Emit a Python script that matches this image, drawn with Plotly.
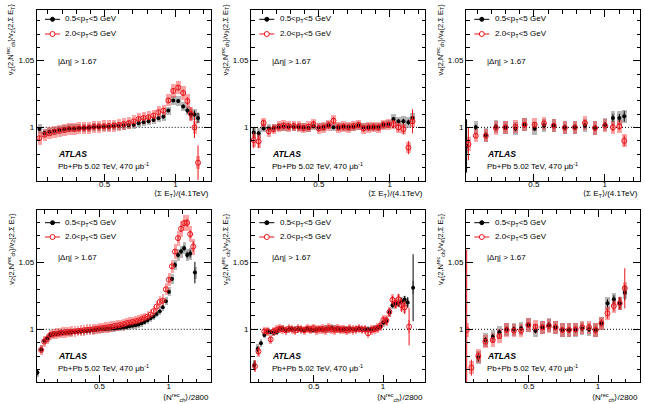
import plotly.graph_objects as go

W, H = 645, 404
FONT = "Liberation Sans, Arial, Helvetica, sans-serif"

# ---------------- data ----------------
# Top-left: v2 ratio vs <Sum E_T>/(4.1 TeV)
x_tl = [0.04, 0.075, 0.11, 0.145, 0.18, 0.215, 0.25, 0.285, 0.32, 0.355,
        0.39, 0.425, 0.46, 0.495, 0.53, 0.565, 0.6, 0.635, 0.67, 0.705,
        0.74, 0.775, 0.81, 0.845, 0.88, 0.915, 0.95, 0.985, 1.02, 1.055,
        1.085, 1.11, 1.135, 1.16]
v2e_black = [0.9987, 0.9957, 0.9967, 0.9975, 0.9982, 0.9987, 0.9992, 0.9992, 0.9995, 0.9995,
             0.9997, 1.0, 1.0, 1.0003, 1.0005, 1.0008, 1.001, 1.0013, 1.0015, 1.002,
             1.003, 1.0038, 1.0045, 1.0056, 1.0068, 1.008, 1.0126, 1.0202, 1.0197, 1.0157,
             1.0126, 1.0096, 1.0096, 1.0071]
v2e_red = [0.9919, 0.9944, 0.9955, 0.9967, 0.9975, 0.998, 0.9987, 0.9987, 0.9992, 0.9995,
           0.9997, 1.0005, 1.0005, 1.0008, 1.001, 1.0013, 1.0018, 1.0025, 1.0033, 1.0045,
           1.0063, 1.0071, 1.0076, 1.0088, 1.0114, 1.0126, 1.0202, 1.0273, 1.0298, 1.0258,
           1.0197, 1.0101, 1.0, 0.9735]
stat_tl_b = [.0015, .001, .001, .001, .001, .001, .001, .001, .001, .001,
             .001, .001, .001, .001, .001, .001, .001, .001, .001, .001,
             .001, .001, .001, .001, .001, .001, .0012, .0012, .0013, .0015,
             .002, .0025, .003, .004]
stat_tl_r = [.002, .0015, .0015, .0015, .0015, .0015, .0015, .0015, .0015, .0015,
             .0015, .0015, .0015, .0015, .0015, .0015, .0015, .0015, .0015, .0015,
             .0015, .0015, .0015, .0015, .0015, .0018, .002, .002, .0022, .0025,
             .003, .005, .008, .013]
sys_tl_b = [.004, .003, .003, .003, .003, .003, .003, .003, .003, .003,
            .003, .003, .003, .003, .003, .003, .003, .003, .003, .003,
            .003, .003, .003, .003, .003, .003, .003, .0035, .0035, .0035,
            .0035, .004, .004, .004]
sys_tl_r = [.005, .0045, .0045, .0045, .0045, .0045, .0045, .0045, .0045, .0045,
            .0045, .0045, .0045, .0045, .0045, .0045, .0045, .0045, .0045, .0045,
            .0045, .0045, .0045, .0045, .0045, .0045, .0045, .005, .005, .005,
            .005, .005, .005, .005]

# Top-middle: v3 ratio vs <Sum E_T>/(4.1 TeV)
x_tm = [0.04, 0.075, 0.11, 0.146, 0.181, 0.216, 0.251, 0.286, 0.322, 0.357,
        0.392, 0.427, 0.462, 0.498, 0.533, 0.568, 0.603, 0.638, 0.674, 0.709,
        0.744, 0.779, 0.814, 0.85, 0.885, 0.92, 0.955, 0.99, 1.026, 1.061,
        1.096, 1.131, 1.16]
v3e_black = [0.9962, 0.9955, 0.9992, 0.9992, 0.9997, 1.0, 1.0005, 1.0, 1.0, 1.0,
             1.0, 0.9995, 1.0008, 1.0, 1.0005, 1.0015, 1.0, 1.0, 1.0005, 1.0005,
             1.0003, 1.0013, 1.0, 1.0, 1.0, 1.0005, 1.002, 1.0025, 1.0063, 1.0045,
             1.0045, 1.0038, 1.0071]
v3e_red = [0.9904, 0.9894, 1.0033, 0.997, 0.9987, 1.0005, 1.0013, 1.0008, 1.001, 1.0005,
           0.9995, 1.0005, 1.0025, 0.9992, 1.0, 1.0015, 1.005, 1.0, 1.0005, 1.0,
           1.001, 1.0018, 0.9992, 1.0, 1.0003, 1.0, 1.0018, 1.002, 1.0025, 1.0,
           0.9987, 0.9848, 1.0045]
stat_tm_b = [.004, .002, .001, .001, .001, .001, .001, .001, .001, .001,
             .001, .001, .001, .001, .001, .001, .001, .001, .001, .001,
             .001, .001, .001, .001, .001, .001, .001, .001, .0015, .0015,
             .002, .002, .006]
stat_tm_r = [.006, .005, .0025, .0025, .0025, .0025, .0025, .0025, .0025, .0025,
             .0025, .0025, .0025, .0025, .0025, .0025, .0025, .0025, .0025, .0025,
             .0025, .0025, .0025, .0025, .0025, .0025, .0025, .0025, .003, .003,
             .004, .005, .009]
sys_tm_b = [.004, .004, .003, .003, .003, .003, .003, .003, .003, .003,
            .003, .003, .003, .003, .003, .003, .003, .003, .003, .003,
            .003, .003, .003, .003, .003, .003, .003, .003, .0035, .0035,
            .004, .004, .004]
sys_tm_r = [.005, .005, .004, .004, .004, .004, .004, .004, .004, .004,
            .004, .004, .004, .004, .004, .004, .004, .004, .004, .004,
            .004, .004, .004, .004, .004, .004, .004, .004, .004, .004,
            .004, .004, .004]

# Top-right: v4 ratio vs <Sum E_T>/(4.1 TeV)
x_tr_b = [0.025, 0.09, 0.161, 0.232, 0.299, 0.37, 0.434, 0.505, 0.571, 0.64,
          0.718, 0.789, 0.86, 0.931, 1.002, 1.057, 1.102, 1.137]
v4e_black = [0.9861, 1.0, 0.9942, 1.0005, 1.0, 0.9992, 1.002, 0.9992, 1.0013, 1.0013,
             1.0, 1.0, 1.0013, 0.9995, 1.002, 1.0071, 1.0071, 1.0083]
x_tr_r = [0.038, 0.09, 0.161, 0.232, 0.299, 0.37, 0.434, 0.505, 0.571, 0.64,
          0.718, 0.789, 0.86, 0.931, 1.002, 1.057, 1.102, 1.137]
v4e_red = [0.9874, 0.9937, 0.9937, 0.9995, 1.0, 1.0005, 1.002, 1.002, 1.003, 1.0013,
           0.9997, 1.0, 1.0033, 0.9995, 1.0013, 1.0, 1.0008, 0.9899]
stat_tr_b = [.02, .002, .002, .002, .002, .002, .002, .002, .002, .002,
             .002, .002, .002, .002, .002, .003, .003, .004]
stat_tr_r = [.012, .002, .002, .002, .002, .002, .002, .002, .002, .002,
             .002, .002, .002, .002, .002, .003, .003, .004]
sys_tr_b = [.005, .005, .005, .005, .005, .005, .005, .005, .005, .005,
            .005, .005, .005, .005, .005, .005, .005, .005]
sys_tr_r = [.005, .005, .005, .005, .005, .005, .005, .005, .005, .005,
            .005, .005, .005, .005, .005, .005, .005, .005]

# Bottom-left: v2 ratio vs <N_ch^rec>/2800
x_bl_b = [0.051, 0.078, 0.1, 0.122, 0.144, 0.166, 0.188, 0.21, 0.232, 0.254,
          0.276, 0.298, 0.32, 0.342, 0.364, 0.386, 0.408, 0.43, 0.452, 0.474,
          0.496, 0.518, 0.54, 0.562, 0.584, 0.606, 0.628, 0.65, 0.672, 0.694,
          0.716, 0.738, 0.76, 0.782, 0.804, 0.826, 0.848, 0.87, 0.892, 0.914,
          0.936, 0.958, 0.98, 1.002, 1.024, 1.046, 1.068, 1.09, 1.112, 1.134,
          1.156, 1.19]
v2n_black = [0.9677, 0.985, 0.9915, 0.9933, 0.9958, 0.9963, 0.9965, 0.997, 0.9972, 0.9975,
             0.9977, 0.9978, 0.998, 0.9982, 0.9984, 0.9986, 0.9988, 0.999, 0.9993, 0.9996,
             1.0, 1.0, 1.0003, 1.0005, 1.0006, 1.0007, 1.001, 1.0012, 1.0015, 1.0018,
             1.0022, 1.0026, 1.003, 1.0036, 1.0045, 1.0055, 1.0068, 1.0082, 1.0095, 1.0115,
             1.0135, 1.0165, 1.021, 1.028, 1.0375, 1.048, 1.0555, 1.058, 1.0605, 1.0555,
             1.0565, 1.0423]
x_bl_r = [0.078, 0.1, 0.122, 0.144, 0.166, 0.188, 0.21, 0.232, 0.254,
          0.276, 0.298, 0.32, 0.342, 0.364, 0.386, 0.408, 0.43, 0.452, 0.474,
          0.496, 0.518, 0.54, 0.562, 0.584, 0.606, 0.628, 0.65, 0.672, 0.694,
          0.716, 0.738, 0.76, 0.782, 0.804, 0.826, 0.848, 0.87, 0.892, 0.914,
          0.936, 0.958, 0.98, 1.002, 1.024, 1.046, 1.068, 1.09, 1.112, 1.134,
          1.156, 1.178]
v2n_red = [0.9846, 0.9908, 0.9928, 0.9958, 0.9965, 0.9968, 0.9972, 0.9975, 0.9978,
           0.998, 0.9982, 0.9985, 0.9987, 0.999, 0.9993, 0.9996, 0.9998, 1.0, 1.0003,
           1.0007, 1.0009, 1.0012, 1.0015, 1.0019, 1.0024, 1.0028, 1.0032, 1.0038, 1.0045,
           1.005, 1.0055, 1.006, 1.0066, 1.0075, 1.0085, 1.0095, 1.011, 1.0135, 1.017,
           1.0205, 1.0215, 1.0299, 1.037, 1.047, 1.058, 1.068, 1.075, 1.0792, 1.0794,
           1.071, 1.0617]
stat_bl_b = [.002, .0015, .0008, .0008, .0008, .0008, .0008, .0008, .0008, .0008,
             .0008, .0008, .0008, .0008, .0008, .0008, .0008, .0008, .0008, .0008,
             .0008, .0008, .0008, .0008, .0008, .0008, .0008, .0008, .0008, .0008,
             .0008, .0008, .0008, .0008, .0008, .0008, .0008, .0008, .0008, .0008,
             .001, .001, .0012, .0015, .0015, .002, .002, .002, .002, .0025,
             .003, .008]
stat_bl_r = [.0015, .001, .001, .001, .001, .001, .001, .001, .001,
             .001, .001, .001, .001, .001, .001, .001, .001, .001, .001,
             .001, .001, .001, .001, .001, .001, .001, .001, .001, .001,
             .001, .001, .001, .001, .001, .001, .001, .001, .001, .001,
             .001, .0012, .0015, .0015, .002, .002, .002, .0025, .0025, .003,
             .003, .004]
sys_bl_b = [.003, .003, .0025, .0025, .0025, .0025, .0025, .0025, .0025, .0025,
            .0025, .0025, .0025, .0025, .0025, .0025, .0025, .0025, .0025, .0025,
            .0025, .0025, .0025, .0025, .0025, .0025, .0025, .0025, .0025, .0025,
            .0025, .0025, .0025, .0025, .0025, .0025, .0025, .0025, .0025, .0025,
            .003, .003, .003, .0035, .004, .004, .0045, .0045, .0045, .0045,
            .0045, .0045]
sys_bl_r = [.004, .004, .004, .004, .004, .004, .004, .004, .004,
            .004, .004, .004, .004, .004, .004, .004, .004, .004, .004,
            .004, .004, .004, .004, .004, .004, .004, .004, .004, .004,
            .004, .004, .004, .004, .004, .004, .004, .004, .004, .004,
            .004, .0045, .0045, .005, .005, .0055, .0055, .006, .006, .006,
            .006, .006]

# Bottom-middle: v3 ratio vs <N_ch^rec>/2800
x_bm_b = [0.07, 0.094, 0.118, 0.142, 0.166, 0.188, 0.21, 0.232, 0.254, 0.276,
          0.298, 0.32, 0.342, 0.364, 0.386, 0.408, 0.43, 0.452, 0.474, 0.496,
          0.518, 0.54, 0.562, 0.584, 0.606, 0.628, 0.65, 0.672, 0.694, 0.716,
          0.738, 0.76, 0.782, 0.804, 0.826, 0.848, 0.87, 0.892, 0.914, 0.936,
          0.958, 0.98, 1.002, 1.024, 1.046, 1.068, 1.09, 1.112, 1.134, 1.156,
          1.178, 1.217]
v3n_black = [0.9734, 0.9853, 0.9896, 0.9958, 0.9983, 0.998, 0.9975, 0.998, 1.0, 1.0005,
             0.9995, 1.0, 1.0003, 1.0, 1.0, 0.9998, 0.9995, 1.0003, 0.9998, 0.9995,
             1.0, 1.0003, 0.9998, 1.0005, 1.0, 1.0012, 1.0005, 1.0, 0.9998, 1.0,
             1.0003, 1.0, 1.0002, 0.9998, 1.0005, 1.0, 0.9998, 1.0, 1.0003, 1.0005,
             1.0008, 1.002, 1.005, 1.006, 1.0125, 1.018, 1.019, 1.0195, 1.021, 1.022,
             1.02, 1.031]
x_bm_r = [0.075, 0.1, 0.142, 0.166, 0.188, 0.21, 0.232, 0.254, 0.276,
          0.298, 0.32, 0.342, 0.364, 0.386, 0.408, 0.43, 0.452, 0.474, 0.496,
          0.518, 0.54, 0.562, 0.584, 0.606, 0.628, 0.65, 0.672, 0.694, 0.716,
          0.738, 0.76, 0.782, 0.804, 0.826, 0.848, 0.87, 0.892, 0.914, 0.936,
          0.958, 0.98, 1.002, 1.024, 1.046, 1.068, 1.09, 1.112, 1.134, 1.156,
          1.188]
v3n_red = [0.9725, 0.9835, 0.9985, 0.9985, 0.9925, 0.9985, 0.9995, 1.0005, 1.0,
           0.9992, 1.0005, 1.0, 0.999, 1.0005, 1.0, 0.9993, 1.0005, 0.9998, 1.0008,
           0.9995, 1.0, 1.0003, 0.9995, 1.001, 1.0, 0.9995, 1.0005, 0.9998, 1.0,
           0.9992, 1.0003, 0.9995, 1.0, 1.0005, 0.9998, 1.0, 0.997, 0.9995, 1.0,
           1.001, 1.0025, 1.007, 1.0065, 1.013, 1.022, 1.019, 1.0224, 1.018, 1.0164,
           1.002]
stat_bm_b = [.003, .002, .0015, .001, .001, .001, .001, .001, .001, .001,
             .001, .001, .001, .001, .001, .001, .001, .001, .001, .001,
             .001, .001, .001, .001, .001, .001, .001, .001, .001, .001,
             .001, .001, .001, .001, .001, .001, .001, .001, .001, .001,
             .001, .001, .0015, .0015, .002, .002, .002, .0025, .0025, .003,
             .004, .025]
stat_bm_r = [.004, .003, .002, .002, .002, .002, .002, .002, .002,
             .002, .002, .002, .002, .002, .002, .002, .002, .002, .002,
             .002, .002, .002, .002, .002, .002, .002, .002, .002, .002,
             .002, .002, .002, .002, .002, .002, .002, .002, .002, .002,
             .002, .0025, .0025, .003, .003, .003, .003, .004, .005, .005,
             .014]
sys_bm_b = [.004, .0035, .003, .0025, .0025, .0025, .0025, .0025, .0025, .0025,
            .0025, .0025, .0025, .0025, .0025, .0025, .0025, .0025, .0025, .0025,
            .0025, .0025, .0025, .0025, .0025, .0025, .0025, .0025, .0025, .0025,
            .0025, .0025, .0025, .0025, .0025, .0025, .0025, .0025, .0025, .0025,
            .0025, .0025, .003, .003, .003, .003, .003, .003, .003, .003,
            .003, .005]
sys_bm_r = [.0045, .004, .0035, .0035, .0035, .0035, .0035, .0035, .0035,
            .0035, .0035, .0035, .0035, .0035, .0035, .0035, .0035, .0035, .0035,
            .0035, .0035, .0035, .0035, .0035, .0035, .0035, .0035, .0035, .0035,
            .0035, .0035, .0035, .0035, .0035, .0035, .0035, .0035, .0035, .0035,
            .004, .004, .004, .004, .004, .004, .004, .004, .004, .004,
            .005]

# Bottom-right: v4 ratio vs <N_ch^rec>/2800
x_br_b = [0.135, 0.186, 0.239, 0.287, 0.34, 0.392, 0.444, 0.496, 0.548, 0.598,
          0.645, 0.693, 0.742, 0.79, 0.838, 0.886, 0.935, 0.983, 1.024, 1.068,
          1.114, 1.157, 1.193]
v4n_black = [0.979, 0.992, 0.9945, 0.9978, 1.0, 1.0, 1.0007, 1.0032, 0.999, 1.0015,
             1.0032, 1.0015, 0.9995, 0.9995, 0.9995, 1.0007, 1.0, 0.9995, 1.0045, 1.0194,
             1.0224, 1.0194, 1.0274]
x_br_r = [0.051, 0.085, 0.135, 0.186, 0.239, 0.287, 0.34, 0.392, 0.444, 0.496,
          0.548, 0.598, 0.645, 0.693, 0.742, 0.79, 0.838, 0.886, 0.935, 0.983,
          1.024, 1.068, 1.114, 1.157, 1.193]
v4n_red = [0.9995, 0.9714, 0.98, 0.9908, 0.992, 0.995, 0.9995, 0.999, 0.999, 1.0032,
           1.002, 1.0015, 1.0025, 1.0015, 0.9995, 0.9995, 1.0, 1.0015, 1.0015, 0.9995,
           1.0045, 1.012, 1.0174, 1.0194, 1.0306]
stat_br_b = [.003, .002, .002, .002, .002, .002, .002, .002, .002, .002,
             .002, .002, .002, .002, .002, .002, .002, .002, .002, .003,
             .003, .004, .006]
stat_br_r = [.06, .006, .003, .002, .002, .002, .002, .002, .002, .002,
             .002, .002, .002, .002, .002, .002, .002, .002, .002, .003,
             .003, .004, .004, .005, .015]
sys_br_b = [.005, .005, .005, .005, .005, .005, .005, .005, .005, .005,
            .005, .005, .005, .005, .005, .005, .005, .005, .005, .005,
            .005, .005, .005]
sys_br_r = [.005, .005, .005, .005, .005, .005, .005, .005, .005, .005,
            .005, .005, .005, .005, .005, .005, .005, .005, .005, .005,
            .005, .005, .005, .005, .005]

# ---------------- labels ----------------
LEG_BLACK = "0.5&lt;p<sub>T</sub>&lt;5 GeV"
LEG_RED = "2.0&lt;p<sub>T</sub>&lt;5 GeV"
DETA = "|Δη| &gt; 1.67"
ATLAS = "<b><i>ATLAS</i></b>"
SYSTEM = "Pb+Pb 5.02 TeV, 470 μb<sup>-1</sup>"
XT_E = "⟨Σ E<sub>T</sub>⟩/(4.1TeV)"
XT_N = "⟨N<sup>rec</sup><sub>ch</sub>⟩/2800"


def ytitle(n):
    return (f"v<sub>{n}</sub>{{2,N<sup>rec</sup><sub>ch</sub>}}/"
            f"v<sub>{n}</sub>{{2,Σ E<sub>T</sub>}}")


panels = [
    dict(row=0, col=0, n=2, xt=XT_E, bw=0.03,
         b=(x_tl, v2e_black, stat_tl_b, sys_tl_b), r=(x_tl, v2e_red, stat_tl_r, sys_tl_r)),
    dict(row=0, col=1, n=3, xt=XT_E, bw=0.03,
         b=(x_tm, v3e_black, stat_tm_b, sys_tm_b), r=(x_tm, v3e_red, stat_tm_r, sys_tm_r)),
    dict(row=0, col=2, n=4, xt=XT_E, bw=0.032,
         b=(x_tr_b, v4e_black, stat_tr_b, sys_tr_b), r=(x_tr_r, v4e_red, stat_tr_r, sys_tr_r)),
    dict(row=1, col=0, n=2, xt=XT_N, bw=0.02,
         b=(x_bl_b, v2n_black, stat_bl_b, sys_bl_b), r=(x_bl_r, v2n_red, stat_bl_r, sys_bl_r)),
    dict(row=1, col=1, n=3, xt=XT_N, bw=0.02,
         b=(x_bm_b, v3n_black, stat_bm_b, sys_bm_b), r=(x_bm_r, v3n_red, stat_bm_r, sys_bm_r)),
    dict(row=1, col=2, n=4, xt=XT_N, bw=0.032,
         b=(x_br_b, v4n_black, stat_br_b, sys_br_b), r=(x_br_r, v4n_red, stat_br_r, sys_br_r)),
]

# ---------------- geometry (pixels) ----------------
COL_L = [36.7, 251.0, 466.0]
COL_R = [210.5, 425.0, 640.0]
ROWS = [
    dict(top=10.0, bot=180.7, leg1=19.3, leg2=34.0, deta=61.7, atlas=154.0,
         sysy=165.7, xt=193.5, yt=1.5, xr=[0.021, 1.248], yr=[0.96, 1.088]),
    dict(top=210.0, bot=382.0, leg1=222.7, leg2=237.0, deta=257.3, atlas=355.7,
         sysy=368.3, xt=397.0, yt=211.0, xr=[0.046, 1.303], yr=[0.9607, 1.089]),
]


def px(x):
    return x / W


def py(y):
    return 1 - y / H


GRAY_BOX = "rgba(135,135,135,0.6)"
RED_BOX = "rgba(255,30,30,0.4)"
RED = "#e8141a"
TXT = 8

fig = go.Figure()
shapes, annotations = [], []
layout = {}

for k, p in enumerate(panels, start=1):
    row, col = ROWS[p["row"]], p["col"]
    xa, ya = ("x" if k == 1 else f"x{k}"), ("y" if k == 1 else f"y{k}")
    xkey, ykey = ("xaxis" if k == 1 else f"xaxis{k}"), ("yaxis" if k == 1 else f"yaxis{k}")
    fl, fr = COL_L[col], COL_R[col]

    tickfont = dict(size=8, family=FONT, color="black")
    common = dict(showline=True, linecolor="black", linewidth=1, mirror="ticks",
                  ticks="inside", ticklen=7, tickwidth=1, tickcolor="black",
                  showgrid=False, zeroline=False, tickfont=tickfont, fixedrange=True)
    layout[xkey] = dict(domain=[px(fl), px(fr)], range=row["xr"], anchor=ya,
                        tick0=0, dtick=0.5, ticklabelstandoff=-4,
                        minor=dict(ticks="inside", ticklen=3.5, tickwidth=1,
                                   tickcolor="black", tick0=0, dtick=0.1),
                        **common)
    layout[ykey] = dict(domain=[py(row["bot"]), py(row["top"])], range=row["yr"], anchor=xa,
                        tick0=1, dtick=0.05,
                        minor=dict(ticks="inside", ticklen=3.5, tickwidth=1,
                                   tickcolor="black", tick0=1, dtick=0.01),
                        **common)

    # dotted reference line at unity
    shapes.append(dict(type="line", xref=f"{xa} domain", yref=ya, x0=0, x1=1, y0=1, y1=1,
                       line=dict(color="black", width=1, dash="1px,2px"), layer="below"))

    # systematic boxes
    for (xs, ys, st, sy), colr in ((p["b"], GRAY_BOX), (p["r"], RED_BOX)):
        fig.add_trace(go.Bar(x=xs, y=[2 * s for s in sy], base=[v - s for v, s in zip(ys, sy)],
                             width=p["bw"], marker=dict(color=colr, line=dict(width=0)),
                             xaxis=xa, yaxis=ya, hoverinfo="skip", showlegend=False))
    # points with statistical errors
    xs, ys, st, sy = p["b"]
    fig.add_trace(go.Scatter(x=xs, y=ys, mode="markers",
                             marker=dict(symbol="circle", size=4, color="black"),
                             error_y=dict(type="data", array=st, thickness=1, width=0, color="black"),
                             xaxis=xa, yaxis=ya, hoverinfo="skip", showlegend=False))
    xs, ys, st, sy = p["r"]
    fig.add_trace(go.Scatter(x=xs, y=ys, mode="markers",
                             marker=dict(symbol="circle-open", size=5, color=RED,
                                         line=dict(width=1, color=RED)),
                             error_y=dict(type="data", array=st, thickness=1, width=0, color=RED),
                             xaxis=xa, yaxis=ya, hoverinfo="skip", showlegend=False))

    # in-panel legend
    for yy, colr, txt, fill, rad in ((row["leg1"], "black", LEG_BLACK, "black", 2.0),
                                      (row["leg2"], RED, LEG_RED, "white", 2.5)):
        shapes.append(dict(type="line", xref="paper", yref="paper",
                           x0=px(fl + 8.3), x1=px(fl + 23.3), y0=py(yy), y1=py(yy),
                           line=dict(color=colr, width=1)))
        shapes.append(dict(type="circle", xref="paper", yref="paper",
                           xsizemode="pixel", ysizemode="pixel",
                           xanchor=px(fl + 15.8), yanchor=py(yy),
                           x0=-rad, x1=rad, y0=-rad, y1=rad,
                           fillcolor=fill, line=dict(color=colr, width=1)))
        annotations.append(dict(text=txt, xref="paper", yref="paper", x=px(fl + 26.6), y=py(yy),
                                xanchor="left", yanchor="middle", showarrow=False,
                                font=dict(size=TXT, family=FONT, color="black")))
    annotations.append(dict(text=DETA, xref="paper", yref="paper", x=px(fl + 19.3), y=py(row["deta"]),
                            xanchor="left", yanchor="middle", showarrow=False,
                            font=dict(size=TXT, family=FONT, color="black")))
    annotations.append(dict(text=ATLAS, xref="paper", yref="paper", x=px(fl + 19.0), y=py(row["atlas"]),
                            xanchor="left", yanchor="middle", showarrow=False,
                            font=dict(size=8.6, family=FONT, color="black")))
    annotations.append(dict(text=SYSTEM, xref="paper", yref="paper", x=px(fl + 19.3), y=py(row["sysy"]),
                            xanchor="left", yanchor="middle", showarrow=False,
                            font=dict(size=TXT, family=FONT, color="black")))
    # axis titles
    annotations.append(dict(text=p["xt"], xref="paper", yref="paper", x=px(fr), y=py(row["xt"]),
                            xanchor="right", yanchor="middle", showarrow=False,
                            font=dict(size=TXT, family=FONT, color="black")))
    annotations.append(dict(text=ytitle(p["n"]), xref="paper", yref="paper", x=px(fl - 26),
                            y=py(row["yt"]), xanchor="center", yanchor="top", textangle=-90,
                            showarrow=False, font=dict(size=7.5, family=FONT, color="black")))

fig.update_layout(width=W, height=H, margin=dict(l=0, r=0, t=0, b=0),
                  paper_bgcolor="white", plot_bgcolor="white", barmode="overlay",
                  bargap=0, showlegend=False, shapes=shapes, annotations=annotations,
                  font=dict(family=FONT, color="black"), **layout)

fig.write_html("out.html")
